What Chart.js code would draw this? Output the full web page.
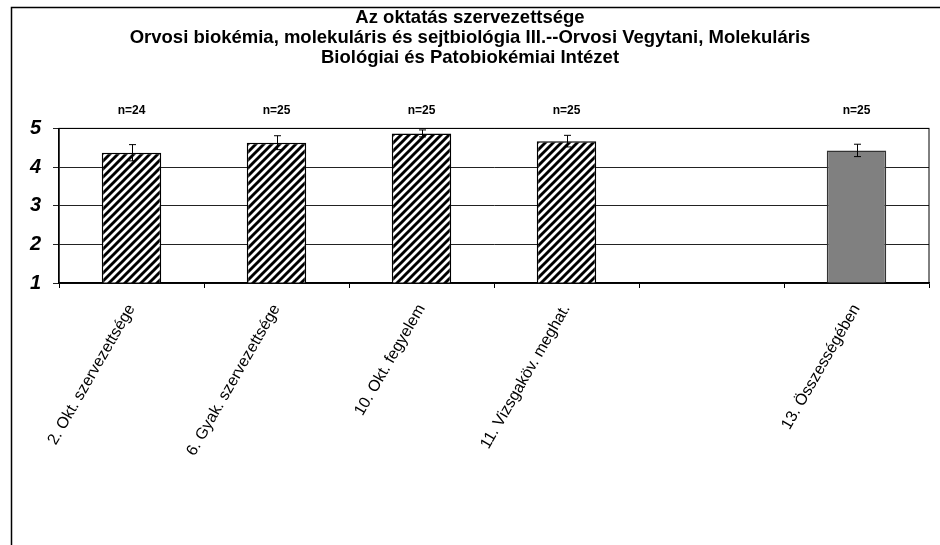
<!DOCTYPE html>
<html>
<head>
<meta charset="utf-8">
<script src="https://cdn.jsdelivr.net/npm/chart.js@4.4.0/dist/chart.umd.min.js"></script>
<style>
  html, body { margin: 0; padding: 0; background: #fff; }
</style>
</head>
<body>
<canvas id="chart" width="940" height="545"></canvas>
<script>
// chart data
const categories = ['2. Okt. szervezettsége', '6. Gyak. szervezettsége', '10. Okt. fegyelem', '11. Vizsgaköv. meghat.', '', '13. Összességében'];
const means = [4.37, 4.63, 4.87, 4.67, null, 4.43];
const errors = [0.21, 0.18, 0.09, 0.15, null, 0.16];
const counts = ['n=24', 'n=25', 'n=25', 'n=25', '', 'n=25'];
const yTicks = [1, 2, 3, 4, 5];
const titleLines = [
  'Az oktatás szervezettsége',
  'Orvosi biokémia, molekuláris és sejtbiológia III.--Orvosi Vegytani, Molekuláris',
  'Biológiai és Patobiokémiai Intézet'
];

const FONT = '"Liberation Sans", Arial, sans-serif';

// black/white diagonal hatch for the single items
function hatch() {
  const c = document.createElement('canvas');
  c.width = 8; c.height = 8;
  const g = c.getContext('2d');
  g.fillStyle = '#fff';
  g.fillRect(0, 0, 8, 8);
  g.strokeStyle = '#000';
  g.lineWidth = 2.9;
  g.beginPath();
  g.moveTo(-1, 9); g.lineTo(9, -1);
  g.moveTo(-1, 1); g.lineTo(1, -1);
  g.moveTo(7, 9); g.lineTo(9, 7);
  g.stroke();
  return g.createPattern(c, 'repeat');
}
const pattern = hatch();

// outer border, plot frame, error bars and n= labels
const extras = {
  id: 'extras',
  afterDraw(chart) {
    const ctx = chart.ctx;
    const a = chart.chartArea;
    const y = chart.scales.y;
    const meta = chart.getDatasetMeta(0);
    ctx.save();
    ctx.strokeStyle = '#000';
    ctx.lineWidth = 1.5;
    ctx.strokeRect(11.5, 7.5, 1000, 1000);
    ctx.lineWidth = 1;
    ctx.strokeRect(a.left, a.top, a.right - a.left, a.bottom - a.top);

    meta.data.forEach((bar, i) => {
      if (means[i] == null) return;
      const x = Math.round(bar.x) + 0.5;
      const top = y.getPixelForValue(means[i] + errors[i]);
      const bot = y.getPixelForValue(means[i] - errors[i]);
      ctx.beginPath();
      ctx.moveTo(x, top); ctx.lineTo(x, bot);
      ctx.moveTo(x - 3.5, top); ctx.lineTo(x + 3.5, top);
      ctx.moveTo(x - 3.5, bot); ctx.lineTo(x + 3.5, bot);
      ctx.stroke();

      ctx.fillStyle = '#000';
      ctx.font = 'bold 12px ' + FONT;
      ctx.textAlign = 'center';
      ctx.textBaseline = 'middle';
      ctx.fillText(counts[i], bar.x, a.top - 18);
    });
    ctx.restore();
  }
};

new Chart(document.getElementById('chart'), {
  type: 'bar',
  data: {
    labels: categories,
    datasets: [{
      data: means,
      backgroundColor: ctx => ctx.dataIndex === categories.length - 1 ? '#808080' : pattern,
      borderColor: ctx => ctx.dataIndex === categories.length - 1 ? '#333' : '#000',
      borderWidth: 1.5,
      borderSkipped: false,
      barPercentage: 0.41,
      categoryPercentage: 1
    }]
  },
  options: {
    responsive: false,
    animation: false,
    layout: { padding: { left: 11, right: 11, top: 0, bottom: 0 } },
    plugins: {
      legend: { display: false },
      tooltip: { enabled: false },
      title: {
        display: true,
        text: titleLines,
        color: '#000',
        font: { family: FONT, size: 18.5, weight: 'bold', lineHeight: 1.07 },
        padding: { top: 8, bottom: 61 }
      }
    },
    scales: {
      x: {
        offset: true,
        grid: { offset: true, drawOnChartArea: false, drawTicks: true, tickLength: 5, color: '#000' },
        border: { color: '#000', width: 1.5 },
        ticks: {
          autoSkip: false, minRotation: 60, maxRotation: 60, padding: 13,
          color: '#000', font: { family: FONT, size: 16 }
        },
        afterFit(scale) { scale.height = 262; }
      },
      y: {
        min: 1, max: 5,
        afterBuildTicks(scale) { scale.ticks = yTicks.map(v => ({ value: v })); },
        grid: { color: '#222', lineWidth: 1, tickLength: 6 },
        border: { color: '#000', width: 1.5 },
        ticks: {
          padding: 12, color: '#000',
          font: { family: FONT, size: 20, weight: 'bold', style: 'italic' }
        },
        afterFit(scale) { scale.width = 48; }
      }
    }
  },
  plugins: [extras]
});
</script>
</body>
</html>
